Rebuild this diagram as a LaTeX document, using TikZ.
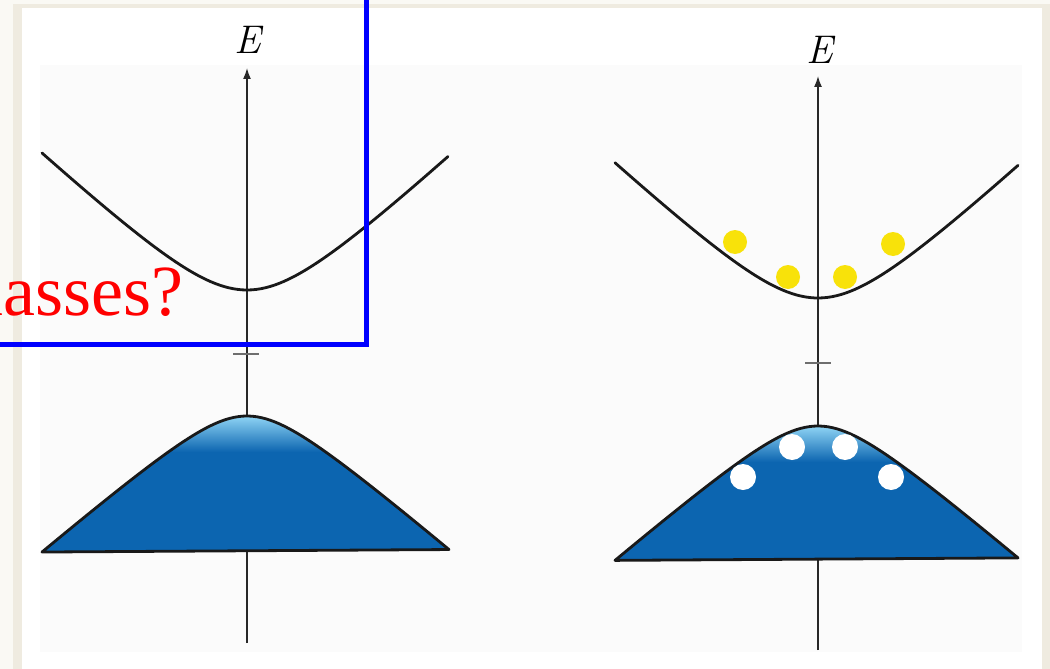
\documentclass[tikz,border=0pt]{standalone}
\usepackage{fontspec}
\newfontfamily\tnrfont{Liberation Serif}
\usetikzlibrary{arrows.meta}
\definecolor{outerbg}{RGB}{250,249,244}
\definecolor{beige}{RGB}{239,235,224}
\definecolor{panelbg}{RGB}{251,251,251}
\definecolor{bandblue}{RGB}{12,101,176}
\definecolor{hiblue}{RGB}{150,218,248}
\definecolor{axisgray}{RGB}{40,40,40}
\definecolor{tickgray}{RGB}{110,110,110}
\definecolor{dotyellow}{RGB}{248,226,10}
\tikzset{
  declare function={cb(\k)=10*(sqrt(41.09+0.8646*\k*\k)-6.41);
                    vb(\k)=10*(sqrt(20.16+0.731*\k*\k)-4.49);},
  axisline/.style={draw=axisgray, line width=1.5pt, -{Latex[length=11pt,width=8pt]}},
  tickline/.style={draw=tickgray, line width=1.3pt},
  bandcurve/.style={draw=black!90, line width=2.8pt, line join=round, line cap=round},
  vband/.style={draw=black!90, line width=2.8pt, line join=round},
  elabel/.style={inner sep=0pt, font=\fontsize{40}{44}\selectfont\itshape},
  eldot/.style={fill=dotyellow},
  holedot/.style={fill=white},
}
\begin{document}
\begin{tikzpicture}[x=1pt,y=-1pt]
\useasboundingbox (0,0) rectangle (1050,669);
\clip (0,0) rectangle (1050,669);
% background
\fill[outerbg] (0,0) rectangle (1050,669);
\fill[beige] (13,4) rectangle (1050,669);
\fill[white] (22,8) rectangle (1042,669);
\fill[panelbg] (40,65) rectangle (1022,652);

% ---------- left diagram ----------
\coordinate (LAbot) at (247,643);
\coordinate (LAtop) at (247,68);
\draw[axisline] (LAbot) -- (LAtop);
\node[elabel] (LE) at (248,40) {E};
\coordinate (LT1) at (233,354);
\coordinate (LT2) at (259,354);
\draw[tickline] (LT1) -- (LT2);
% valence band
\begin{scope}
  \clip plot[domain=-20.5:20.2, samples=90] ({247+10*\x},{416+vb(\x)}) -- cycle;
  \fill[bandblue] (30,400) rectangle (460,570);
  \shade[top color=hiblue, bottom color=bandblue] (150,414) rectangle (350,452);
\end{scope}
\draw[vband] plot[domain=-20.5:20.2, samples=90] ({247+10*\x},{416+vb(\x)}) -- cycle;
% conduction band
\draw[bandcurve] plot[domain=-20.5:20.1, samples=90] ({247+10*\x},{290-cb(\x)});

% ---------- right diagram ----------
\coordinate (RAbot) at (818,650);
\coordinate (RAtop) at (818,76);
\draw[axisline] (RAbot) -- (RAtop);
\node[elabel] (RE) at (820,50) {E};
\coordinate (RT1) at (805,363);
\coordinate (RT2) at (831,363);
\draw[tickline] (RT1) -- (RT2);
% valence band
\begin{scope}
  \clip plot[domain=-20.3:20.0, samples=90] ({818+10*\x},{426+vb(\x)}) -- cycle;
  \fill[bandblue] (600,410) rectangle (1030,580);
  \shade[top color=hiblue, bottom color=bandblue] (720,424) rectangle (920,462);
\end{scope}
\draw[vband] plot[domain=-20.3:20.0, samples=90] ({818+10*\x},{426+vb(\x)}) -- cycle;
% holes
\fill[holedot] (743,477) circle (13pt);
\fill[holedot] (792,447) circle (13pt);
\fill[holedot] (845,447) circle (13pt);
\fill[holedot] (891,477) circle (13pt);
% conduction band
\draw[bandcurve] plot[domain=-20.3:20.0, samples=90] ({818+10*\x},{298-cb(\x)});
% electrons
\fill[eldot] (735,242) circle (12pt);
\fill[eldot] (788,277) circle (12pt);
\fill[eldot] (845,277) circle (12pt);
\fill[eldot] (893,244) circle (12pt);

% ---------- overlay ----------
\node[anchor=base east, inner sep=0pt, text=red, font=\tnrfont\fontsize{72}{80}\selectfont] (Q) at (184,315) {masses?};
\coordinate (B1) at (-20,-20);
\coordinate (B2) at (366,344);
\draw[blue, line width=5pt] (B1) rectangle (B2);
\end{tikzpicture}
\end{document}
